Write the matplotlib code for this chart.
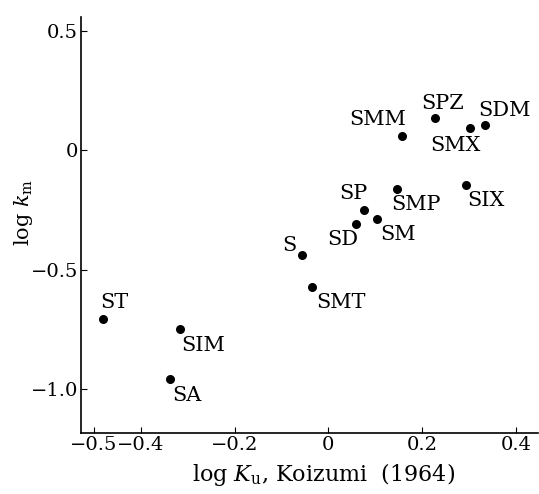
import matplotlib
matplotlib.use("Agg")
import matplotlib.pyplot as plt

plt.rcParams['font.family'] = 'DejaVu Serif'
plt.rcParams['mathtext.fontset'] = 'dejavuserif'

# samples: log Ku (Koizumi 1964) against log km
names = ['ST', 'SIM', 'SA', 'S', 'SMT', 'SD', 'SP', 'SM', 'SMP', 'SIX',
         'SMM', 'SPZ', 'SMX', 'SDM']
log_ku = [-0.481, -0.317, -0.338, -0.057, -0.034, 0.060, 0.077, 0.104, 0.147, 0.294,
          0.157, 0.228, 0.302, 0.334]
log_km = [-0.707, -0.749, -0.958, -0.439, -0.573, -0.310, -0.251, -0.289, -0.163, -0.146,
          0.059, 0.134, 0.096, 0.105]

# where each label sits relative to its point (offset in points, ha, va)
label_pos = {
    'ST': (-2, 5, 'left', 'bottom'),
    'SIM': (1, -5, 'left', 'top'),
    'SA': (2, -5, 'left', 'top'),
    'S': (-4, 0, 'right', 'bottom'),
    'SMT': (3, -4, 'left', 'top'),
    'SD': (-10, -4, 'center', 'top'),
    'SP': (2, 5, 'right', 'bottom'),
    'SM': (2, -4, 'left', 'top'),
    'SMP': (-4, -4, 'left', 'top'),
    'SIX': (1, -4, 'left', 'top'),
    'SMM': (3, 5, 'right', 'bottom'),
    'SPZ': (-10, 4, 'left', 'bottom'),
    'SMX': (8, -6, 'right', 'top'),
    'SDM': (-5, 4, 'left', 'bottom'),
}

fig = plt.figure(figsize=(5.39, 4.94), dpi=100)
ax = fig.add_axes([0.150, 0.1235, 0.848, 0.842])

ax.scatter(log_ku, log_km, s=30, color='black', zorder=3)
for n, x, y in zip(names, log_ku, log_km):
    dx, dy, ha, va = label_pos[n]
    ax.annotate(n, (x, y), xytext=(dx, dy), textcoords='offset points',
                ha=ha, va=va, fontsize=15)

ax.set_xlim(-0.528, 0.447)
ax.set_ylim(-1.184, 0.559)
ax.set_xticks([-0.5, -0.4, -0.2, 0, 0.2, 0.4])
ax.set_xticklabels(['\u22120.5', '\u22120.4', '\u22120.2', '0', '0.2', '0.4'])
ax.set_yticks([-1.0, -0.5, 0, 0.5])
ax.set_yticklabels(['\u22121.0', '\u22120.5', '0', '0.5'])
ax.tick_params(direction='in', length=4, width=0.8, labelsize=14, pad=2)

ax.spines['top'].set_visible(False)
ax.spines['right'].set_visible(False)
ax.spines['left'].set_linewidth(1.2)
ax.spines['bottom'].set_linewidth(1.2)

ax.set_xlabel(r'log $K_{\rm u}$, Koizumi  (1964)', fontsize=16, va='center')
ax.set_ylabel(r'log $k_{\rm m}$', fontsize=15, va='center')
ax.xaxis.set_label_coords(0.53, -0.10)
ax.yaxis.set_label_coords(-0.125, 0.53)

fig.savefig('out.png', dpi=100)
